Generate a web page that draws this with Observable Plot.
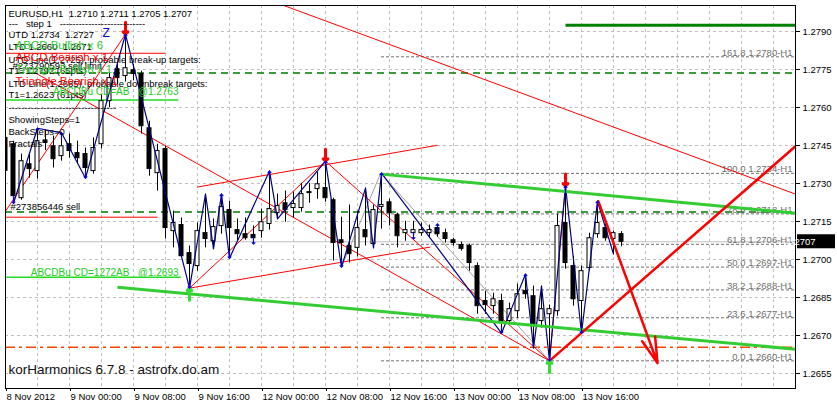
<!DOCTYPE html>
<html><head><meta charset="utf-8">
<script src="https://cdn.jsdelivr.net/npm/d3@7"></script>
<script src="https://cdn.jsdelivr.net/npm/@observablehq/plot@0.6"></script>
<style>
html,body{margin:0;padding:0;background:#fff;}
#chart{position:absolute;left:0;top:0;}
svg text{white-space:pre;}
</style></head><body><div id="chart"></div>
<script>
// ---- EURUSD H1 candles (bar 0 = 8 Nov 2012 16:00) ----
const open  = [1.2748,1.27455,1.27242,1.27376,1.27349,1.27470,1.27447,1.27408,1.27455,1.27420,
               1.27416,1.27349,1.27455,1.27625,1.27751,1.27724,1.27747,1.27732,1.27518,1.27341,
               1.27436,1.27112,1.27136,1.27025,1.26974,1.27104,1.27072,1.27132,1.27195,1.27116,
               1.27100,1.27097,1.27112,1.27140,1.27183,1.27222,1.27203,1.27203,1.27262,1.27278,
               1.27282,1.27234,1.27076,1.27053,1.27046,1.27116,1.27061,1.27207,1.27226,1.27175,
               1.27104,1.27104,1.27104,1.27104,1.27124,1.27104,1.27076,1.27057,1.27053,1.26974,
               1.26836,1.26816,1.26836,1.26757,1.26796,1.26875,1.26855,1.26757,1.26784,1.26796,
               1.27144,1.26974,1.26836,1.26966,1.27100,1.27124,1.27081,1.2710];
const high  = [1.2752,1.27467,1.27416,1.27420,1.27518,1.27510,1.27487,1.27500,1.27495,1.27467,
               1.27440,1.27480,1.27650,1.27740,1.27780,1.27889,1.27770,1.27743,1.27546,1.27455,
               1.27447,1.27191,1.27164,1.27053,1.27144,1.27258,1.27160,1.27258,1.27230,1.27160,
               1.27164,1.27132,1.27199,1.27349,1.27258,1.27270,1.27266,1.27301,1.27301,1.27345,
               1.27388,1.27242,1.27167,1.27215,1.27191,1.27282,1.27215,1.27341,1.27238,1.27183,
               1.27151,1.27151,1.27144,1.27136,1.27140,1.27120,1.27084,1.27069,1.27061,1.26986,
               1.26875,1.26867,1.26863,1.26828,1.26903,1.26942,1.26895,1.26895,1.26820,1.27179,
               1.27290,1.27013,1.26974,1.27104,1.27230,1.27140,1.27112,1.2711];
const low   = [1.2731,1.27222,1.27234,1.27321,1.27317,1.27430,1.27361,1.27388,1.27400,1.27376,
               1.27321,1.27337,1.27436,1.27600,1.27690,1.27700,1.27705,1.27495,1.27329,1.27270,
               1.27081,1.27046,1.27010,1.26887,1.26954,1.27046,1.27042,1.27100,1.27005,1.27072,
               1.27076,1.27061,1.27084,1.27116,1.27160,1.27147,1.27164,1.27187,1.27222,1.27238,
               1.27226,1.26994,1.26970,1.26986,1.27010,1.27053,1.27046,1.27120,1.27132,1.27046,
               1.27072,1.27081,1.27092,1.27088,1.27088,1.27065,1.27053,1.27033,1.26954,1.26784,
               1.26784,1.26784,1.26709,1.26745,1.26768,1.26843,1.26650,1.26729,1.26600,1.26776,
               1.26962,1.26816,1.26709,1.26954,1.27084,1.27072,1.27021,1.2705];
const close = [1.2735,1.27250,1.27388,1.27357,1.27467,1.27460,1.27396,1.27447,1.27428,1.27400,
               1.27361,1.27440,1.27625,1.27716,1.27716,1.27755,1.27732,1.27526,1.27357,1.27428,
               1.27124,1.27144,1.27013,1.26982,1.27112,1.27081,1.27128,1.27207,1.27124,1.27100,
               1.27084,1.27084,1.27147,1.27199,1.27211,1.27195,1.27219,1.27258,1.27266,1.27297,
               1.27242,1.27065,1.27065,1.27021,1.27124,1.27088,1.27195,1.27215,1.27183,1.27092,
               1.27116,1.27116,1.27116,1.27116,1.27100,1.27081,1.27065,1.27042,1.26986,1.26816,
               1.26820,1.26843,1.26749,1.26804,1.26863,1.26863,1.26745,1.26804,1.26804,1.27132,
               1.26986,1.26843,1.26954,1.27084,1.27144,1.27084,1.27104,1.2707];

// ---- zigzag pivots (bar, H/L) ----
const zigBars  = [1,4,7,10,15,23,25,26,27,28,33,34,40,42,45,46,47,62,65,66,67,68,70,72,74,76];
const zigTypes = ["L","H","H","L","H","L","H","L","H","L","H","L","H","L","H","L","H","L","H","L","H","L","H","L","H","L"];

// ---- fractal / pattern markers ----
const fracUpBars   = [4,7,15,27,33,40,47,54,65,70,74];
const fracDownBars = [1,10,23,28,31,42,51,62,68,72];
const redPeakBars  = [15,40,70];
const greenLowBars = [23,68];

// ---- Fibonacci levels ----
const fibNames  = ["161.8","100.0","78.6","61.8","50.0","38.2","23.6","0.0"];
const fibPrices = [1.2780,1.2734,1.2718,1.2706,1.2697,1.2688,1.2677,1.2660];
const fibStartBar = 47;

// ---- trend / channel lines [bar1, price1, bar2, price2] ----
const redThin = [
  [34.75,1.28003,98.75,1.27258],
  [3.75,1.27736,68,1.26600],
  [0,1.27191,15,1.27889],
  [24,1.27286,54,1.27451],
  [23,1.26887,53.1,1.27049],
  [23,1.26887,40,1.27388],
  [40,1.27388,68,1.26600],
  [68,1.26600,70,1.27290],
  [0,1.27814,20,1.27814],
  [0,1.27167,19,1.27167]
];
const redThick = [[68,1.26600,98.75,1.27447]];
const redArrow = [[74.1,1.27230,81.5,1.26591]];
const greyThin = [[42,1.26970,46.9,1.27341],[46.9,1.27341,68,1.26600]];
const greenThick = [[14,1.26890,98.75,1.26646],[46.9,1.27337,98.75,1.27183]];
const darkGreenTarget = [[70,1.27925,98.75,1.27925]];
const abcdTargets = [[0,1.27630,21.6,1.27630],[0,1.26930,21.9,1.26930]];
const darkGreenDashed = [1.27736,1.27187];
const orangeDashDot = [1.26654];
const lastPrice = 1.2707;

// ---- axes ----
const yTicks = [1.2655,1.2670,1.2685,1.2700,1.2715,1.2730,1.2745,1.2760,1.2775,1.2790];
const xTickBars = [0,8,16,24,32,40,48,56,64,72];
const xTickLabels = ["8 Nov 2012","9 Nov 00:00","9 Nov 08:00","9 Nov 16:00","12 Nov 00:00","12 Nov 08:00","12 Nov 16:00","13 Nov 00:00","13 Nov 08:00","13 Nov 16:00"];
const gridBars = [4,8,12,16,20,24,28,32,36,40,44,48,52,56,60,64,68,72,76,80,84,88,92,96];

// ---- comment texts ----
const commentLines = [
  "EURUSD,H1  1.2710 1.2711 1.2705 1.2707",
  "---   step 1   ---------------------------",
  "UTD 1.2734  1.2727",
  "LTD 1.2660  1.2671",
  "UTD Line(1.2725), probable break-up targets:",
  "T1=1.2792 (65pts)",
  "LTD Line(1.2685), probable downbreak targets:",
  "T1=1.2623 (61pts)",
  "----------------------------------",
  "ShowingSteps=1",
  "BackSteps=0",
  "Fractals"
];
const commentRowY = [13,23,34,46,59,70,83,94,107,119,131,143];

const candles = open.map((o, i) => ({i, o, h: high[i], l: low[i], c: close[i]}));
const zig = zigBars.map((b, k) => ({b, p: zigTypes[k] === "H" ? high[b] : low[b]}));
const fibs = fibNames.map((n, k) => ({n, p: fibPrices[k]}));
const labelOf = new Map(xTickBars.map((b, k) => [b, xTickLabels[k]]));

const FONT = "Liberation Sans, Arial, sans-serif";
function note(str, x, y, o = {}) {
  return Plot.text([str], {text: d => d, frameAnchor: "top-left", dx: x - 5, dy: y - 5,
    textAnchor: "start", lineAnchor: "middle", fontSize: 9.5, fill: "black", ...o});
}
const seg = (data, o) => Plot.link(data, {x1: d => d[0], y1: d => d[1], x2: d => d[2], y2: d => d[3], ...o});

const marks = [
  // grid
  Plot.ruleX(gridBars, {stroke: "#c0c0c0", strokeDasharray: "3,3"}),
  Plot.ruleY(yTicks, {stroke: "#c0c0c0", strokeDasharray: "3,3"}),
  // horizontal levels
  Plot.ruleY([lastPrice], {stroke: "#c0c0c0"}),
  Plot.ruleY(darkGreenDashed, {stroke: "#007800", strokeWidth: 1.5, strokeDasharray: "7,5"}),
  Plot.ruleY(orangeDashDot, {stroke: "#ff4500", strokeWidth: 1.5, strokeDasharray: "10,4,3,4"}),
  Plot.ruleY(fibs, {y: "p", x1: fibStartBar, x2: 98.75, stroke: "#707070", strokeDasharray: "3,2"}),
  Plot.text(fibs, {x: 98.75, y: "p", text: d => `${d.n} ${d.p.toFixed(4)}-H1`, textAnchor: "end",
    lineAnchor: "bottom", dx: -3, dy: -1, fill: "#707070", fontSize: 9.5}),
  // thin lines
  seg(greyThin, {stroke: "#a0a0a0"}),
  seg(redThin, {stroke: "#ff0000"}),
  seg(abcdTargets, {stroke: "#22dd22", strokeWidth: 1.5}),
  // candles
  Plot.ruleX(candles, {x: "i", y1: "l", y2: "h", stroke: "black", clip: true}),
  Plot.rect(candles, {x1: d => d.i - 0.25, x2: d => d.i + 0.25, y1: "o", y2: "c",
    fill: d => d.c < d.o ? "black" : "white", stroke: "black", clip: true}),
  // zigzag
  Plot.line(zig, {x: "b", y: "p", stroke: "#000080", strokeWidth: 1.2}),
  // thick lines
  seg(greenThick, {stroke: "#33cc33", strokeWidth: 3}),
  seg(darkGreenTarget, {stroke: "#008000", strokeWidth: 3}),
  seg(redThick, {stroke: "#ff0000", strokeWidth: 2.5}),
  Plot.arrow(redArrow, {x1: d => d[0], y1: d => d[1], x2: d => d[2], y2: d => d[3],
    stroke: "#ff0000", strokeWidth: 2.5, headLength: 16, headAngle: 30}),
  // markers
  Plot.vector(redPeakBars, {x: d => d, y: d => high[d], length: 12, rotate: 180, anchor: "end",
    stroke: "#ff0000", strokeWidth: 3}),
  Plot.vector(greenLowBars, {x: d => d, y: d => low[d], length: 12, rotate: 0, anchor: "end",
    stroke: "#33dd33", strokeWidth: 3}),
  Plot.vector(fracUpBars, {x: d => d, y: d => high[d], length: 7, rotate: 0, anchor: "end",
    stroke: "#0000dd", strokeWidth: 1.2}),
  Plot.vector(fracDownBars, {x: d => d, y: d => low[d], length: 7, rotate: 180, anchor: "end",
    stroke: "#0000dd", strokeWidth: 1.2}),
  // comment block
  ...commentLines.map((s, k) => note(s, 8, commentRowY[k])),
  note("#273790593 sell limit", 12, 65),
  note("#273856446 sell", 10, 206),
  note("ABCD Bullish x 6", 15, 45, {fill: "#33cc33", fontSize: 11.5}),
  note("ABCD Bearish x 1", 15, 57, {fill: "#ff0000", fontSize: 11.5}),
  note("Triangle Bullish x 1", 15, 69, {fill: "#33cc33", fontSize: 11.5}),
  note("Triangle Bearish x 1", 15, 81, {fill: "#ff0000", fontSize: 11.5}),
  note("ABCDBu CD=AB   @1.2763", 178, 91, {fill: "#22cc22", fontSize: 10, textAnchor: "end"}),
  note("ABCDBu CD=1272AB   @1.2693", 178, 272, {fill: "#22cc22", fontSize: 10, textAnchor: "end"}),
  note("Z", 102, 33, {fill: "#0000cc", fontSize: 12}),
  note("korHarmonics 6.7.8 - astrofx.do.am", 8, 369, {fontSize: 13.5, fill: "#111"}),
  // frame & axes
  Plot.frame({stroke: "black"}),
  Plot.axisY(yTicks, {anchor: "right", tickFormat: d => d.toFixed(4), tickSize: 4, tickPadding: 3,
    fontSize: 9.5, fill: "black"}),
  Plot.axisX(xTickBars, {anchor: "bottom", tickFormat: d => labelOf.get(d), textAnchor: "start",
    tickSize: 3, tickPadding: 2, fontSize: 9.5, fill: "black", dx: 1})
];

const plot = Plot.plot({
  width: 837, height: 407,
  marginLeft: 5, marginRight: 42, marginTop: 5, marginBottom: 19,
  x: {type: "linear", domain: [0, 98.75], axis: null},
  y: {type: "linear", domain: [1.264908, 1.280026], axis: null},
  style: {background: "white", fontFamily: FONT, fontSize: "9.5px", color: "black"},
  marks
});
document.getElementById("chart").appendChild(plot);

// last-price tag on the right axis
const yPx = plot.scale("y").apply(lastPrice);
const tag = d3.select(plot).append("g");
tag.append("rect").attr("x", 797).attr("y", yPx - 7).attr("width", 38).attr("height", 14).attr("fill", "black");
tag.append("text").attr("x", 801).attr("y", yPx).attr("dy", "0.35em").attr("fill", "white")
  .attr("font-family", FONT).attr("font-size", 9.5).text(lastPrice.toFixed(4));
</script></body></html>
